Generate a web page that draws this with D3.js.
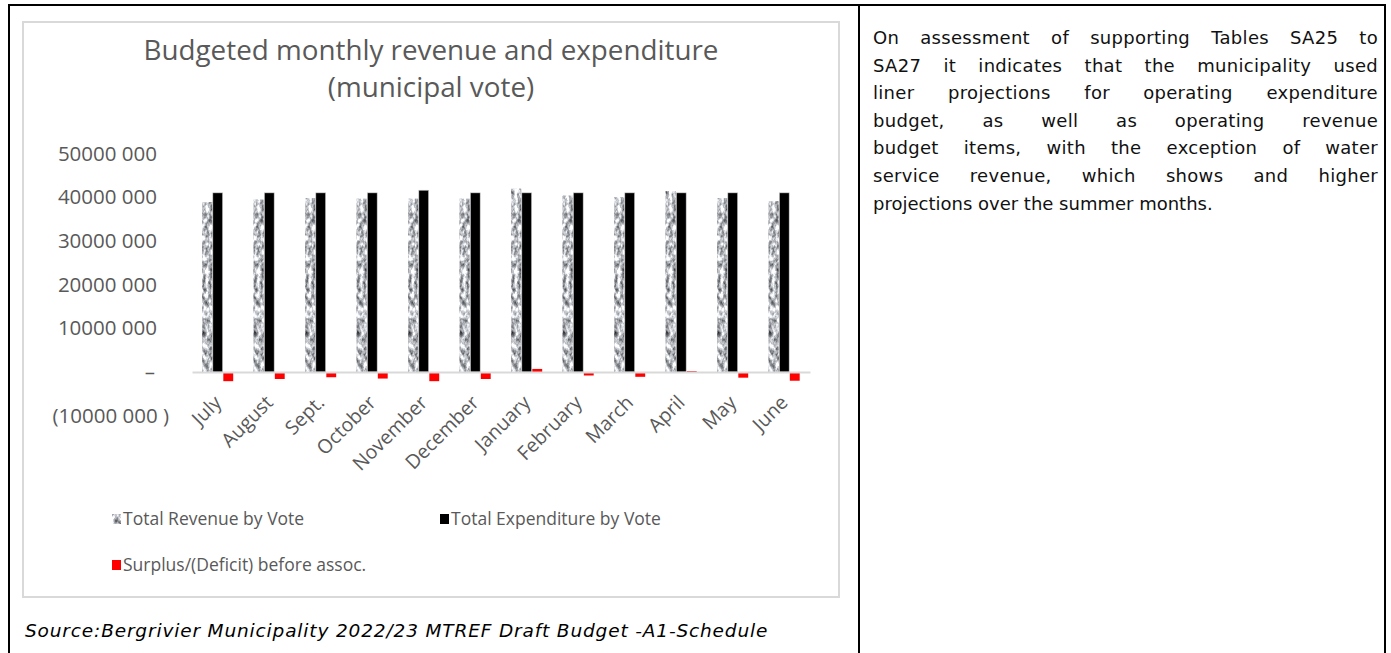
<!DOCTYPE html>
<html>
<head>
<meta charset="utf-8">
<script src="https://cdn.jsdelivr.net/npm/d3@7"></script>
<style>
  html, body { margin: 0; padding: 0; background: #fff; }
  svg { display: block; }
</style>
</head>
<body>
<svg id="page" width="1391" height="653"></svg>
<script>
// Monthly budget figures (Rand)
const months = ["July", "August", "Sept.", "October", "November", "December",
                "January", "February", "March", "April", "May", "June"];
const revenue = [38900000, 39400000, 39800000, 39600000, 39600000, 39600000,
                 41900000, 40300000, 40000000, 41400000, 39800000, 39100000];
const expenditure = [41000000, 41000000, 41000000, 41000000, 41600000, 41000000,
                     41000000, 41000000, 41000000, 41000000, 41000000, 41000000];
const surplus = [-2100000, -1600000, -1200000, -1500000, -2100000, -1600000,
                 700000, -800000, -1100000, 200000, -1300000, -2000000];
const yTicks = [-10000000, 0, 10000000, 20000000, 30000000, 40000000, 50000000];
const seriesNames = ["Total Revenue by Vote", "Total Expenditure by Vote", "Surplus/(Deficit) before assoc."];
const titleLines = ["Budgeted monthly revenue and expenditure", "(municipal vote)"];
const sourceText = "Source:Bergrivier Municipality 2022/23 MTREF Draft Budget -A1-Schedule";
const noteLines = [
  "On assessment of supporting Tables SA25 to",
  "SA27 it indicates that the municipality used",
  "liner projections for operating expenditure",
  "budget, as well as operating revenue",
  "budget items, with the exception of water",
  "service revenue, which shows and higher",
  "projections over the summer months."
];

const svg = d3.select("#page");
const TXT = "#595959";
const chartFont = "'Open Sans', Lato, sans-serif";

// marble-like grey texture for the revenue series
const defs = svg.append("defs");
const marble = defs.append("filter").attr("id", "marble")
  .attr("x", 0).attr("y", 0).attr("width", 1).attr("height", 1)
  .attr("color-interpolation-filters", "sRGB");
marble.append("feTurbulence").attr("type", "fractalNoise")
  .attr("baseFrequency", "0.28 0.16").attr("numOctaves", 3).attr("seed", 11).attr("result", "noise");
marble.append("feColorMatrix").attr("in", "noise").attr("type", "matrix")
  .attr("values", "1.35 0 0 0 0.06  1.35 0 0 0 0.07  1.35 0 0 0 0.09  0 0 0 0 1")
  .attr("result", "grey");
marble.append("feComposite").attr("in", "grey").attr("in2", "SourceGraphic").attr("operator", "in");

// table frame
const frame = svg.append("g").attr("stroke", "#000").attr("stroke-width", 2);
frame.append("line").attr("x1", 9).attr("x2", 1385).attr("y1", 5).attr("y2", 5);
frame.append("line").attr("x1", 9).attr("x2", 9).attr("y1", 4).attr("y2", 653);
frame.append("line").attr("x1", 859).attr("x2", 859).attr("y1", 4).attr("y2", 653);
frame.append("line").attr("x1", 1385).attr("x2", 1385).attr("y1", 4).attr("y2", 653);

// chart area box
svg.append("rect").attr("x", 23).attr("y", 22).attr("width", 816).attr("height", 575)
  .attr("fill", "#fff").attr("stroke", "#d9d9d9").attr("stroke-width", 2);

// title
svg.append("g").selectAll("text").data(titleLines).join("text")
  .attr("x", 431).attr("y", (d, i) => 60 + i * 37)
  .attr("text-anchor", "middle")
  .attr("font-family", chartFont).attr("font-size", 27.8).attr("fill", TXT)
  .text(d => d);

// scales
const x0 = d3.scaleBand().domain(months).range([192, 810]).paddingInner(0).paddingOuter(0);
const groupW = x0.bandwidth() * 0.6;
const x1 = d3.scaleBand().domain([0, 1, 2]).range([0, groupW]).paddingInner(0.06);
const y = d3.scaleLinear().domain([-10000000, 50000000]).range([415.7, 153.5]);

function tickLabel(v) {
  if (v === 0) return "\u2013";
  const a = Math.abs(v);
  const s = Math.floor(a / 1000) + " " + String(a % 1000).padStart(3, "0");
  return v < 0 ? "(" + s + " )" : s;
}

// y axis (labels only)
const yAxis = d3.axisLeft(y).tickValues(yTicks).tickFormat(tickLabel).tickSize(0).tickPadding(0);
const yg = svg.append("g").attr("transform", "translate(157,0)").call(yAxis);
yg.select(".domain").remove();
yg.selectAll("text").attr("font-family", chartFont).attr("font-size", 20.5).attr("fill", TXT)
  .attr("dx", d => d < 0 ? 12 : (d === 0 ? -2 : 0));

// bars
const series = [revenue, expenditure, surplus];
const groups = svg.append("g").selectAll("g").data(months).join("g")
  .attr("transform", d => `translate(${x0(d) + (x0.bandwidth() - groupW) / 2},0)`);

groups.selectAll("rect").data((m, i) => series.map((s, k) => ({ k, v: s[i] }))).join("rect")
  .attr("x", d => x1(d.k))
  .attr("width", x1.bandwidth())
  .attr("y", d => y(Math.max(0, d.v)))
  .attr("height", d => Math.abs(y(d.v) - y(0)))
  .attr("fill", d => d.k === 0 ? "#ccc" : (d.k === 1 ? "#000" : "#ff0000"))
  .attr("filter", d => d.k === 0 ? "url(#marble)" : null)
  .attr("stroke", d => d.k === 2 ? "none" : "#d4d4d4")
  .attr("stroke-width", 0.6);

// zero line and category labels
const xAxis = d3.axisBottom(x0).tickSize(0).tickPadding(0);
const xg = svg.append("g").attr("transform", `translate(0,${y(0)})`).call(xAxis);
xg.select(".domain").attr("stroke", "#d9d9d9").attr("stroke-width", 2);
xg.selectAll(".tick text")
  .attr("font-family", chartFont).attr("font-size", 19.5).attr("fill", TXT)
  .attr("text-anchor", "end")
  .attr("dy", "0.35em")
  .attr("transform", "translate(0,27) rotate(-45)");

// legend
const legendItems = [
  { name: seriesNames[0], x: 112, y: 519, k: 0 },
  { name: seriesNames[1], x: 440, y: 519, k: 1 },
  { name: seriesNames[2], x: 112, y: 565, k: 2 }
];
const lg = svg.append("g").selectAll("g").data(legendItems).join("g")
  .attr("transform", d => `translate(${d.x},${d.y})`);
lg.append("rect").attr("x", 0).attr("y", -5).attr("width", 9).attr("height", 10)
  .attr("fill", d => d.k === 0 ? "#ccc" : (d.k === 1 ? "#000" : "#ff0000"))
  .attr("filter", d => d.k === 0 ? "url(#marble)" : null);
lg.append("text").attr("x", 11).attr("dy", "0.35em")
  .attr("font-family", chartFont).attr("font-size", 17.5).attr("fill", TXT)
  .text(d => d.name);

// source line
svg.append("text").attr("x", 25).attr("y", 637)
  .attr("font-family", "'DejaVu Sans', sans-serif").attr("font-style", "italic")
  .attr("font-size", 18.5).attr("letter-spacing", 0.85).attr("fill", "#000")
  .text(sourceText);

// justified note in the right-hand cell
const noteLeft = 873, noteRight = 1378, noteFont = "'DejaVu Sans', sans-serif";
const note = svg.append("g");
noteLines.forEach((line, i) => {
  const words = line.split(" ");
  const yy = 44 + i * 27.6;
  const t = note.append("text").attr("y", yy)
    .attr("font-family", noteFont).attr("font-size", 18).attr("letter-spacing", 0.3).attr("fill", "#111");
  if (i === noteLines.length - 1) {
    t.attr("x", noteLeft).attr("letter-spacing", 0).text(line);
    return;
  }
  const spans = words.map(w => t.append("tspan").text(w));
  const widths = spans.map(s => s.node().getComputedTextLength());
  const total = d3.sum(widths);
  const gap = (noteRight - noteLeft - total) / (words.length - 1);
  let cx = noteLeft;
  spans.forEach((s, k) => { s.attr("x", cx); cx += widths[k] + gap; });
});
</script>
</body>
</html>
